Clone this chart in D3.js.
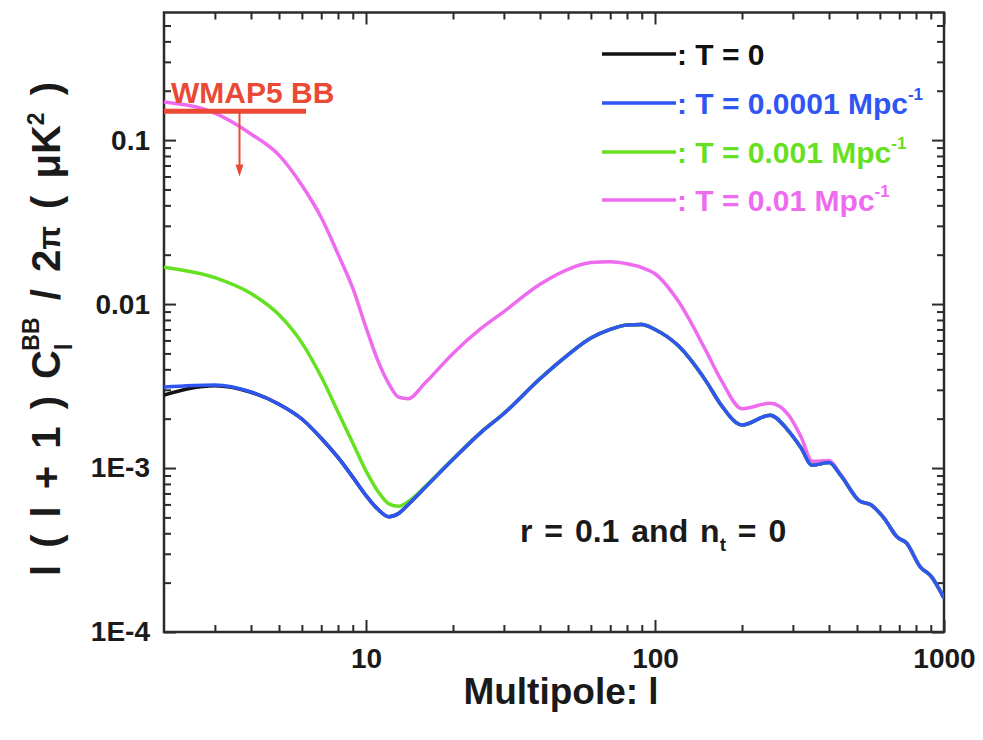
<!DOCTYPE html>
<html><head><meta charset="utf-8">
<script src="https://cdn.jsdelivr.net/npm/d3@7"></script>
<style>
body{margin:0;background:#fff}
svg{display:block}
text{font-family:"Liberation Sans",Arial,Helvetica,sans-serif;font-weight:bold}
</style>
</head><body>
<svg id="chart" width="983" height="740"></svg>
<script>
// ---- data ----
const ells = [2,3,4,5,6,7,8,9,10,11,12,13,14,16,20,25,30,40,50,60,70,80,90,100,120,150,170,200,250,290,320,350,400,440,510,560,620,690,740,830,900,1000];
const cT0 =    [0.00279,0.00318,0.00290,0.00245,0.00199,0.00152,0.00116,0.00088,0.00068,0.00056,0.000505,0.00053,0.00060,0.00076,0.00113,0.00165,0.00215,0.0035,0.0049,0.0062,0.0070,0.00745,0.0075,0.0070,0.0056,0.0034,0.0024,0.00183,0.00210,0.00168,0.00133,0.00104,0.00108,0.00090,0.00063,0.000595,0.000495,0.000378,0.00035,0.000248,0.00022,0.000161];
const cT1e4 =  [0.00312,0.00321,0.00291,0.00245,0.00199,0.00152,0.00116,0.00088,0.00068,0.00056,0.000505,0.00053,0.00060,0.00076,0.00113,0.00165,0.00215,0.0035,0.0049,0.0062,0.0070,0.00745,0.0075,0.0070,0.0056,0.0034,0.0024,0.00183,0.00210,0.00168,0.00133,0.00104,0.00108,0.00090,0.00063,0.000595,0.000495,0.000378,0.00035,0.000248,0.00022,0.000161];
const cT1e3 =  [0.0168,0.0145,0.0116,0.0086,0.0058,0.0036,0.0022,0.00142,0.00096,0.00072,0.000605,0.000585,0.000625,0.00077,0.00114,0.00165,0.00215,0.0035,0.0049,0.0062,0.0070,0.00745,0.0075,0.0070,0.0056,0.0034,0.0024,0.00183,0.00210,0.00168,0.00133,0.00104,0.00108,0.00090,0.00063,0.000595,0.000495,0.000378,0.00035,0.000248,0.00022,0.000161];
const cT1e2 =  [0.171,0.146,0.109,0.081,0.053,0.0337,0.0202,0.0125,0.0072,0.0045,0.00326,0.0027,0.00265,0.0033,0.0050,0.0071,0.0090,0.0132,0.0163,0.0179,0.0181,0.0176,0.0167,0.0153,0.0105,0.0052,0.0034,0.00230,0.00248,0.00210,0.00155,0.00110,0.00111,0.00091,0.00063,0.000595,0.000495,0.000378,0.00035,0.000248,0.00022,0.000161];

const seriesLabels = [": T = 0", ": T = 0.0001 Mpc", ": T = 0.001 Mpc", ": T = 0.01 Mpc"];
const seriesSup    = ["", "-1", "-1", "-1"];
const seriesColors = ["#111111", "#2f55f2", "#66e022", "#ee6aee"];

const xMajor = [10, 100, 1000];
const xLabels = ["10", "100", "1000"];
const xMinor = [3,4,5,6,7,8,9,20,30,40,50,60,70,80,90,200,300,400,500,600,700,800,900];
const yMajor = [1e-4, 1e-3, 0.01, 0.1];
const yLabels = ["1E-4", "1E-3", "0.01", "0.1"];
const yMinor = [2e-4,3e-4,4e-4,5e-4,6e-4,7e-4,8e-4,9e-4,2e-3,3e-3,4e-3,5e-3,6e-3,7e-3,8e-3,9e-3,0.02,0.03,0.04,0.05,0.06,0.07,0.08,0.09,0.2,0.3,0.4,0.5];

const wmapRange = [2, 6.2];   // multipole span of the WMAP5 limit
const wmapLimit = 0.15;
const wmapArrowL = 3.65;
const wmapArrowTo = 0.06;

// ---- drawing ----
const svg = d3.select("#chart");
const L = 164, R = 944, T = 12.5, B = 632;
const x = d3.scaleLog().domain([2, 1000]).range([L, R]);
const y = d3.scaleLog().domain([1e-4, 0.6]).range([B, T]);
const axisColor = "#2b2b2b";

function styleAxis(g){
  g.select(".domain").remove();
  g.selectAll(".tick line").attr("stroke", axisColor).attr("stroke-width", 2);
  g.selectAll("text").attr("fill", "#1a1a1a").style("font-size", "28px").style("font-weight", "bold")
    .style("font-family", '"Liberation Sans",Arial,sans-serif');
}
const maj = 12, mnr = 7;
// bottom
svg.append("g").attr("transform", `translate(0,${B})`)
  .call(d3.axisBottom(x).tickValues(xMinor).tickSize(-mnr).tickFormat("")).call(styleAxis);
svg.append("g").attr("transform", `translate(0,${B})`)
  .call(d3.axisBottom(x).tickValues(xMajor).tickSize(-maj).tickPadding(16).tickFormat((d,i)=>xLabels[i])).call(styleAxis);
// top
svg.append("g").attr("transform", `translate(0,${T})`)
  .call(d3.axisTop(x).tickValues(xMinor).tickSize(-mnr).tickFormat("")).call(styleAxis);
svg.append("g").attr("transform", `translate(0,${T})`)
  .call(d3.axisTop(x).tickValues(xMajor).tickSize(-maj).tickFormat("")).call(styleAxis);
// left
svg.append("g").attr("transform", `translate(${L},0)`)
  .call(d3.axisLeft(y).tickValues(yMinor).tickSize(-mnr).tickFormat("")).call(styleAxis);
svg.append("g").attr("transform", `translate(${L},0)`)
  .call(d3.axisLeft(y).tickValues(yMajor).tickSize(-maj).tickPadding(14).tickFormat((d,i)=>yLabels[i])).call(styleAxis);
// right
svg.append("g").attr("transform", `translate(${R},0)`)
  .call(d3.axisRight(y).tickValues(yMinor).tickSize(-mnr).tickFormat("")).call(styleAxis);
svg.append("g").attr("transform", `translate(${R},0)`)
  .call(d3.axisRight(y).tickValues(yMajor).tickSize(-maj).tickFormat("")).call(styleAxis);

svg.append("rect").attr("x", L).attr("y", T).attr("width", R - L).attr("height", B - T)
  .attr("fill", "none").attr("stroke", axisColor).attr("stroke-width", 2.5);

// curves
const line = d3.line().x(d => x(d[0])).y(d => y(d[1])).curve(d3.curveMonotoneX);
const allSeries = [cT0, cT1e4, cT1e3, cT1e2];
const drawOrder = [0, 3, 2, 1];
svg.append("clipPath").attr("id", "pc").append("rect")
  .attr("x", L).attr("y", T).attr("width", R - L).attr("height", B - T);
const cg = svg.append("g").attr("clip-path", "url(#pc)");
drawOrder.forEach(i => {
  cg.append("path").datum(ells.map((l, k) => [l, allSeries[i][k]]))
    .attr("d", line).attr("fill", "none").attr("stroke", seriesColors[i])
    .attr("stroke-width", 3.5).attr("stroke-linejoin", "round");
});

// WMAP5 limit
const red = "#ea4a35";
svg.append("line").attr("x1", x(wmapRange[0])).attr("x2", x(wmapRange[1]))
  .attr("y1", y(wmapLimit)).attr("y2", y(wmapLimit)).attr("stroke", red).attr("stroke-width", 5);
svg.append("line").attr("x1", x(wmapArrowL)).attr("x2", x(wmapArrowL))
  .attr("y1", y(wmapLimit)).attr("y2", y(wmapArrowTo) - 8).attr("stroke", red).attr("stroke-width", 2);
const ax = x(wmapArrowL), ay = y(wmapArrowTo);
svg.append("path").attr("d", `M${ax-4},${ay-12}L${ax+4},${ay-12}L${ax},${ay}Z`).attr("fill", red);
svg.append("text").attr("x", 171).attr("y", 103).attr("fill", red).style("font-size", "30px").text("WMAP5 BB");

// legend
const legY = [54, 103, 152, 200];
seriesLabels.forEach((s, i) => {
  svg.append("line").attr("x1", 602).attr("x2", 676).attr("y1", legY[i]).attr("y2", legY[i])
    .attr("stroke", seriesColors[i]).attr("stroke-width", 3.5);
  const t = svg.append("text").attr("x", 677).attr("y", legY[i] + 11).attr("fill", seriesColors[i])
    .style("font-size", "30px");
  t.append("tspan").text(s);
  if (seriesSup[i]) t.append("tspan").attr("dy", -14).style("font-size", "17px").text(seriesSup[i]);
});

// annotation
const ann = svg.append("text").attr("x", 520).attr("y", 542).attr("fill", "#1a1a1a")
  .style("font-size", "32px").style("word-spacing", "3px");
ann.append("tspan").text("r = 0.1 and n");
ann.append("tspan").attr("dy", 9).style("font-size", "19px").text("t");
ann.append("tspan").attr("dy", -9).text(" = 0");

// x title
svg.append("text").attr("x", 561).attr("y", 704).attr("text-anchor", "middle").attr("fill", "#1a1a1a")
  .style("font-size", "37px").text("Multipole: l");

// y title
const yt = svg.append("text").attr("transform", "translate(60,329) rotate(-90)").attr("text-anchor", "middle")
  .attr("fill", "#1a1a1a").style("font-size", "40px").style("word-spacing", "6px");
yt.append("tspan").text("l ( l + 1 ) C");
yt.append("tspan").attr("dy", 12).style("font-size", "23px").text("l");
yt.append("tspan").attr("dx", -7).attr("dy", -33).style("font-size", "23px").text("BB");
yt.append("tspan").attr("dy", 21).text(" / 2");
yt.append("tspan").style("font-size", "31px").text("π");
yt.append("tspan").text(" ( μK");
yt.append("tspan").attr("dy", -16).style("font-size", "23px").text("2");
yt.append("tspan").attr("dy", 16).text(" )");
</script>
</body></html>
